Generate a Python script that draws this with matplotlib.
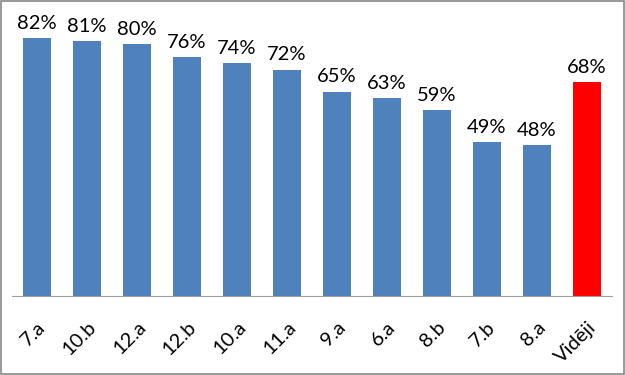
import matplotlib
matplotlib.use("Agg")
import matplotlib.pyplot as plt
from matplotlib.patches import Rectangle

categories = ["7.a", "10.b", "12.a", "12.b", "10.a", "11.a", "9.a", "6.a", "8.b", "7.b", "8.a", "Vidēji"]
values = [82, 81, 80, 76, 74, 72, 65, 63, 59, 49, 48, 68]
colors = ["#4F81BD"] * 11 + ["#FF0000"]

plt.rcParams['font.family'] = ['Lato', 'DejaVu Sans']

fig = plt.figure(figsize=(6.25, 3.75), dpi=100)
ax = fig.add_axes([12/625, (375-296)/375, 600/625, (296-13)/375])
x = list(range(len(categories)))
bars = ax.bar(x, values, width=0.57, color=colors)
for xi, v in zip(x, values):
    ax.text(xi, v + 2.0, f"{v}%", ha="center", va="bottom", fontsize=14.5)
ax.set_xlim(-0.5, len(categories) - 0.5)
ax.set_ylim(0, 90)
ax.set_yticks([])
ax.set_xticks(x)
ax.set_xticklabels(categories, rotation=45, ha="right", rotation_mode="anchor", fontsize=14.5)
ax.tick_params(axis="x", length=0, pad=16)
for s in ["top", "right", "left"]:
    ax.spines[s].set_visible(False)
ax.spines["bottom"].set_color("#A0A0A0")
fig.patches.append(Rectangle((0.001, 0.002), 0.997, 0.995, transform=fig.transFigure,
                             fill=False, edgecolor="#888888", linewidth=1.2))
fig.savefig("out.png", dpi=100)
